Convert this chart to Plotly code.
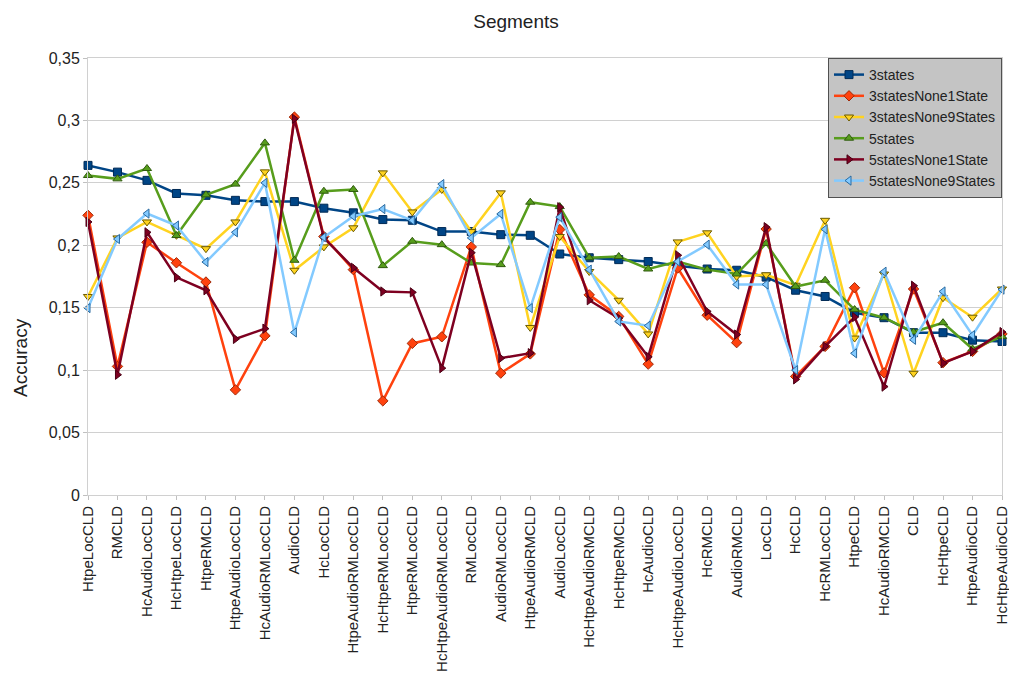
import plotly.graph_objects as go

categories = ["HtpeLocCLD", "RMCLD", "HcAudioLocCLD", "HcHtpeLocCLD", "HtpeRMCLD",
              "HtpeAudioLocCLD", "HcAudioRMLocCLD", "AudioCLD", "HcLocCLD", "HtpeAudioRMLocCLD",
              "HcHtpeRMLocCLD", "HtpeRMLocCLD", "HcHtpeAudioRMLocCLD", "RMLocCLD", "AudioRMLocCLD",
              "HtpeAudioRMCLD", "AudioLocCLD", "HcHtpeAudioRMCLD", "HcHtpeRMCLD", "HcAudioCLD",
              "HcHtpeAudioLocCLD", "HcRMCLD", "AudioRMCLD", "LocCLD", "HcCLD", "HcRMLocCLD",
              "HtpeCLD", "HcAudioRMCLD", "CLD", "HcHtpeCLD", "HtpeAudioCLD", "HcHtpeAudioCLD"]

s_3states = [0.264, 0.2586, 0.252, 0.2415, 0.240, 0.236, 0.235, 0.235, 0.2297, 0.226,
             0.2206, 0.220, 0.211, 0.211, 0.2085, 0.208, 0.193, 0.190, 0.1885, 0.187,
             0.1836, 0.181, 0.180, 0.1745, 0.164, 0.159, 0.146, 0.142, 0.130, 0.130,
             0.124, 0.123]
s_3statesNone1State = [0.224, 0.103, 0.2024, 0.186, 0.1706, 0.0842, 0.1275, 0.3027, 0.207, 0.1805,
                       0.0754, 0.1214, 0.1267, 0.1987, 0.0976, 0.113, 0.2126, 0.1603, 0.143, 0.1048,
                       0.1818, 0.144, 0.122, 0.213, 0.095, 0.119, 0.166, 0.0978, 0.165, 0.106,
                       0.115, 0.129]
s_3statesNone9States = [0.159, 0.2059, 0.2187, 0.208, 0.1973, 0.2187, 0.2588, 0.180, 0.1987, 0.214,
                        0.258, 0.2267, 0.2447, 0.211, 0.242, 0.1342, 0.207, 0.179, 0.156, 0.129,
                        0.2027, 0.210, 0.175, 0.1764, 0.168, 0.220, 0.1257, 0.177, 0.0975, 0.158,
                        0.1424, 0.165]
s_5states = [0.2559, 0.2532, 0.2615, 0.2078, 0.2404, 0.249, 0.282, 0.188, 0.2433, 0.2447,
             0.1837, 0.2032, 0.2005, 0.1858, 0.1845, 0.2345, 0.231, 0.190, 0.191, 0.181,
             0.187, 0.1805, 0.177, 0.2015, 0.167, 0.172, 0.1485, 0.142, 0.1305, 0.138,
             0.117, 0.127]
s_5statesNone1State = [0.2187, 0.0963, 0.2104, 0.1743, 0.164, 0.125, 0.1332, 0.3013, 0.2059, 0.182,
                       0.163, 0.1623, 0.1016, 0.1941, 0.1096, 0.1136, 0.2305, 0.156, 0.1416, 0.1107,
                       0.192, 0.147, 0.1285, 0.2145, 0.0926, 0.119, 0.1425, 0.0868, 0.1676, 0.1056,
                       0.115, 0.1305]
s_5statesNone9States = [0.1497, 0.205, 0.2254, 0.2158, 0.1866, 0.2104, 0.250, 0.1302, 0.2064, 0.2233,
                        0.229, 0.220, 0.249, 0.2059, 0.2251, 0.1497, 0.2225, 0.1805, 0.139, 0.1356,
                        0.187, 0.2005, 0.1686, 0.1686, 0.100, 0.2128, 0.1135, 0.1788, 0.1243, 0.163,
                        0.128, 0.1645]

series_names = ["3states", "3statesNone1State", "3statesNone9States",
                "5states", "5statesNone1State", "5statesNone9States"]
series_values = [s_3states, s_3statesNone1State, s_3statesNone9States,
                 s_5states, s_5statesNone1State, s_5statesNone9States]
colors = ["#004586", "#ff420e", "#ffd320", "#579d1c", "#7e0021", "#83caff"]
edge_colors = ["#002a55", "#a02a08", "#6b5a00", "#2f5a0e", "#4a0014", "#2a6aa0"]
symbols = ["square", "diamond", "triangle-down", "triangle-up", "triangle-right", "triangle-left"]

fig = go.Figure()
for name, vals, c, ec, sym in zip(series_names, series_values, colors, edge_colors, symbols):
    fig.add_trace(go.Scatter(
        x=categories, y=vals, name=name, mode="lines+markers",
        line=dict(color=c, width=2.5),
        marker=dict(symbol=sym, size=8, color=c, line=dict(color=ec, width=1)),
        cliponaxis=False,
    ))

# page body has an 8px default margin; figure is sized so the plot lands where the reference has it
fig.update_layout(
    width=1009, height=667,
    margin=dict(l=80, r=15, t=50, b=180, autoexpand=False),
    paper_bgcolor="white", plot_bgcolor="white",
    separators=", ",
    font=dict(family="Liberation Sans, Arial, sans-serif", size=15, color="#222"),
    title=dict(text="Segments", x=(516 - 8) / 1009, xanchor="center", y=1 - (21 - 8) / 667,
               yanchor="middle", font=dict(size=19, color="#222")),
    showlegend=True,
    legend=dict(x=1.0, xanchor="right", y=1.0, yanchor="top",
                bgcolor="#c4c4c4", bordercolor="#505050", borderwidth=1,
                font=dict(size=14, color="#222"), itemwidth=30, tracegroupgap=0),
)
fig.update_xaxes(
    type="category", range=[0, len(categories) - 1],
    tickangle=-90, tickfont=dict(size=15, color="#222"),
    showgrid=False, showline=True, linecolor="#d0d0d0", mirror=True,
    ticks="outside", ticklen=4, tickcolor="#c0c0c0", automargin=False,
)
fig.update_yaxes(
    range=[0, 0.35], dtick=0.05, tick0=0,
    tickfont=dict(size=16, color="#222"),
    showgrid=True, gridcolor="#d0d0d0", gridwidth=1,
    showline=True, linecolor="#d0d0d0", mirror=True,
    ticks="outside", ticklen=4, tickcolor="#c0c0c0",
    zeroline=False, automargin=False,
)
fig.add_annotation(text="Accuracy", xref="paper", yref="paper",
                   x=(20 - 88) / 914, y=(495 - 358) / 437, textangle=-90,
                   showarrow=False, font=dict(size=19, color="#222"),
                   xanchor="center", yanchor="middle")

fig.write_html("out.html")
